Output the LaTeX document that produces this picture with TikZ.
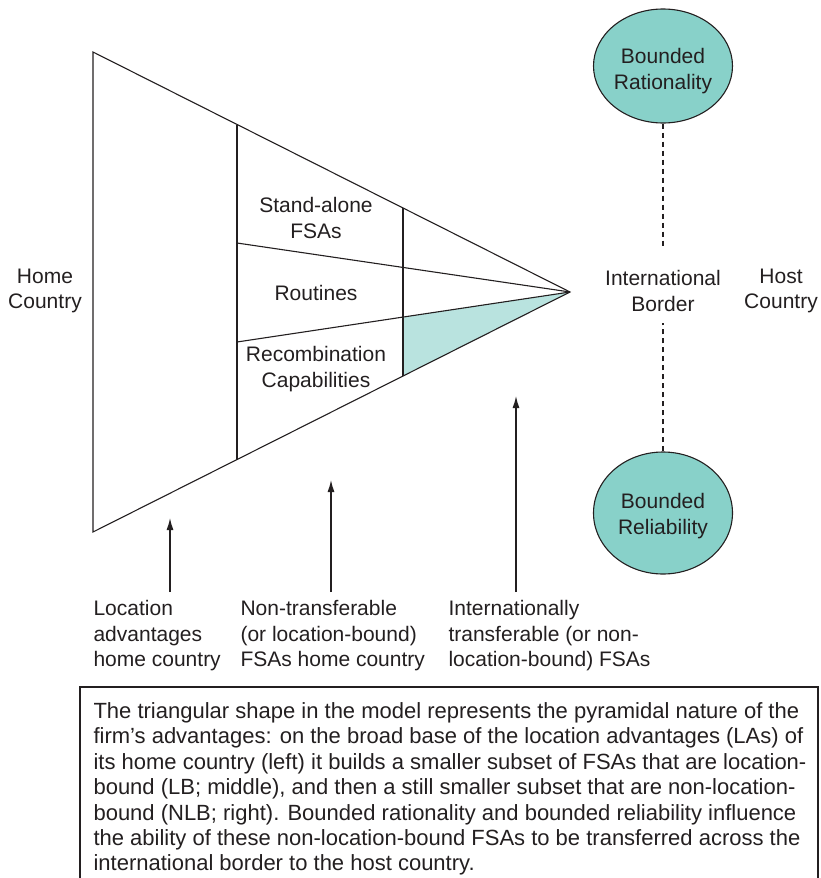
\documentclass[tikz,border=0pt]{standalone}
\usepackage{fontspec}
\setmainfont{Liberation Sans}
\usetikzlibrary{arrows.meta, shapes.geometric}
\definecolor{tealball}{HTML}{88D1C9}
\definecolor{tealwedge}{HTML}{B9E3DF}
\definecolor{ink}{HTML}{231F20}

\begin{document}
\begin{tikzpicture}[>={Latex[length=12pt, width=7pt]}, x=1pt, y=-1pt, line width=1.1pt,
	font=\fontsize{21}{25.5}\selectfont, color=ink,
	lbl/.style={align=center, inner sep=0pt},
	ball/.style={ellipse, draw, fill=tealball, minimum width=139pt, inner sep=0pt},
	foot/.style={align=left, anchor=north west, inner sep=0pt}]

\useasboundingbox (0,0) rectangle (820,878);

% the pyramid of advantages
\coordinate (top) at (93,52);
\coordinate (bot) at (93,532);
\coordinate (tip) at (570,292);
\fill[tealwedge] (403,317) -- (tip) -- (403,376) -- cycle;
\draw[line join=miter] (top) -- (tip) -- (bot) -- cycle;
\draw (237,124.5) -- (237,459.5);
\draw (403,208) -- (403,376);
\draw (237,243) -- (tip);
\draw (237,342) -- (tip);

\node[lbl] (stand) at (316,218) {Stand-alone\\FSAs};
\node[lbl] (rout) at (316,293) {Routines};
\node[lbl] (recomb) at (316,369) {Recombination\\Capabilities};

\node[lbl] (home) at (45,291) {Home\\Country};
\node[lbl] (border) at (663,291) {International\\Border};
\node[lbl] (host) at (781,291) {Host\\Country};

\node[ball, minimum height=114pt] (rat) at (663,66) {};
\node[lbl] (rat text) at ([yshift=-5pt]rat.center) {Bounded\\Rationality};
\node[ball, minimum height=122pt] (rel) at (663,513) {};
\node[lbl] (rel text) at ([yshift=-3pt]rel.center) {Bounded\\Reliability};
\draw[dash pattern=on 5pt off 4pt] (rat) -- ([yshift=24pt]border.north);
\draw[dash pattern=on 5pt off 4pt] (rel) -- ([yshift=-11pt]border.south);

% what the three parts are
\node[foot] (la) at (93,600) {Location\\advantages\\home country};
\node[foot] (nt) at (240,600) {Non-transferable\\(or location-bound)\\FSAs home country};
\node[foot] (it) at (448,600) {Internationally\\transferable (or non-\\location-bound) FSAs};

\coordinate (la tip) at (170,518);
\coordinate (nt tip) at (331,480);
\coordinate (it tip) at (516,396);
\draw[->, line width=1.3pt] (la.north -| la tip) ++(0,-8) -- (la tip);
\draw[->, line width=1.3pt] (nt.north -| nt tip) ++(0,-8) -- (nt tip);
\draw[->, line width=1.3pt] (it.north -| it tip) ++(0,-8) -- (it tip);

% note below
\draw (80,880) -- (80,687) -- (818,687) -- (818,880);
\node[foot, font=\fontsize{22}{25.4}\selectfont] (note) at (93,702) {The triangular shape in the model represents the pyramidal nature of the\\
firm's advantages: on the broad base of the location advantages (LAs) of\\
its home country (left) it builds a smaller subset of FSAs that are location-\\
bound (LB; middle), and then a still smaller subset that are non-location-\\
bound (NLB; right). Bounded rationality and bounded reliability influence\\
the ability of these non-location-bound FSAs to be transferred across the\\
international border to the host country.};

\end{tikzpicture}
\end{document}
